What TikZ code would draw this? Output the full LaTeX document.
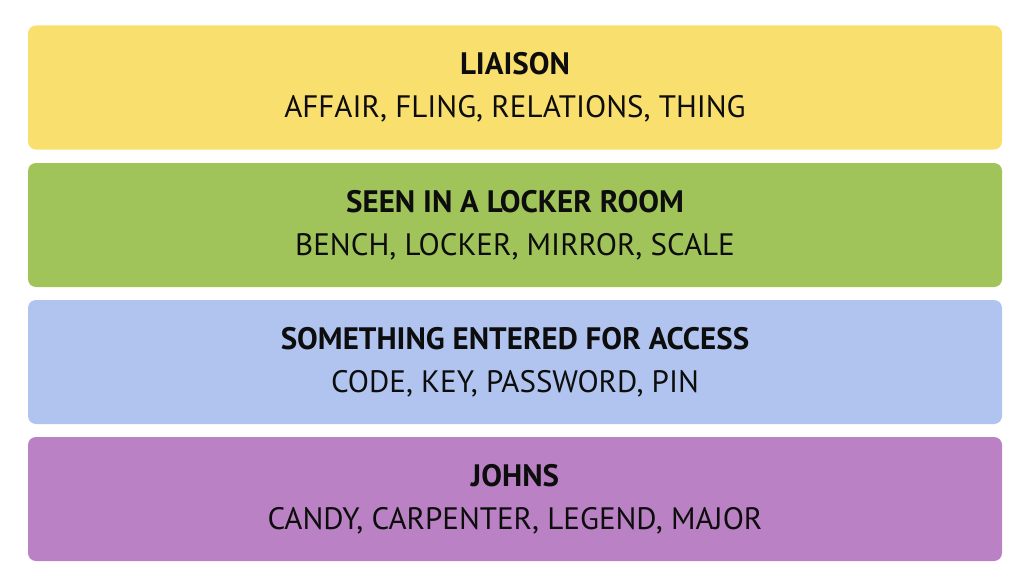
\documentclass[tikz,border=0pt]{standalone}
\usepackage{fontspec}
\setmainfont{PT Sans}
\definecolor{catyellow}{HTML}{F9DF6D}
\definecolor{catgreen}{HTML}{A0C35A}
\definecolor{catblue}{HTML}{B0C4EF}
\definecolor{catpurple}{HTML}{BA81C5}
\begin{document}
\begin{tikzpicture}[x=1pt,y=-1pt,
    catbox/.style={rounded corners=8pt, minimum width=974pt, minimum height=124pt,
      align=center, inner sep=0pt, text=black!95,
      font=\fontsize{31}{43}\selectfont}]
  \useasboundingbox[fill=white] (0,0) rectangle (1028,578);
  \node[catbox, fill=catyellow] (liaison) at (515,87.5)
    {\textbf{LIAISON}\\AFFAIR, FLING, RELATIONS, THING};
  \node[catbox, fill=catgreen] (locker) at (515,225)
    {\textbf{SEEN IN A LOCKER ROOM}\\BENCH, LOCKER, MIRROR, SCALE};
  \node[catbox, fill=catblue] (access) at (515,362)
    {\textbf{SOMETHING ENTERED FOR ACCESS}\\CODE, KEY, PASSWORD, PIN};
  \node[catbox, fill=catpurple] (johns) at (515,499)
    {\textbf{JOHNS}\\CANDY, CARPENTER, LEGEND, MAJOR};
\end{tikzpicture}
\end{document}
